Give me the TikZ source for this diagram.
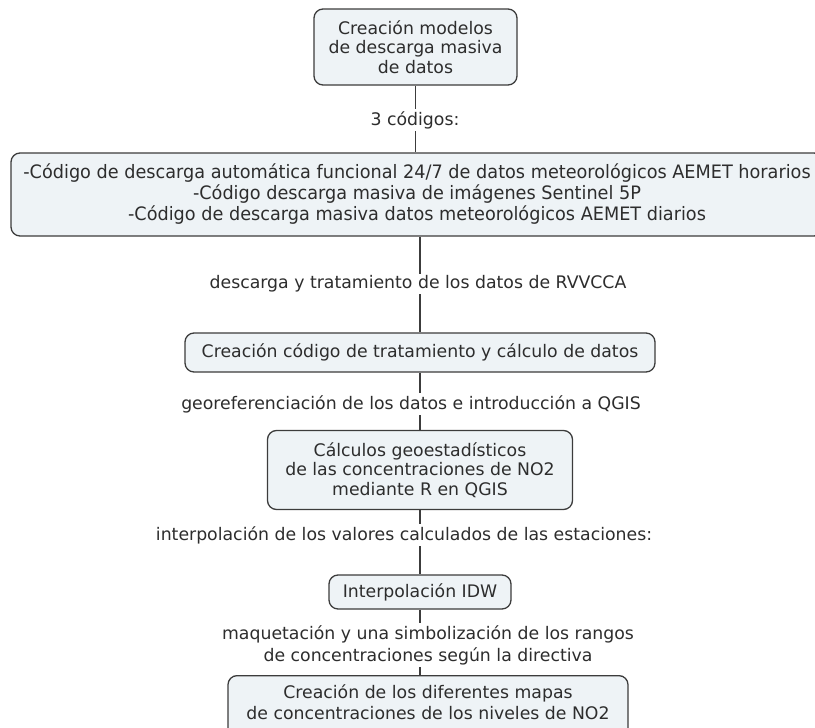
\documentclass[tikz,border=0pt]{standalone}
\usepackage{fontspec}
\setmainfont{DejaVu Sans}
\usetikzlibrary{backgrounds}
\definecolor{boxfill}{RGB}{238,243,246}
\definecolor{boxline}{RGB}{60,60,60}
\definecolor{txt}{RGB}{45,45,45}
\newcommand{\cond}[1]{\scalebox{0.955}[1]{#1}}
\begin{document}
\begin{tikzpicture}[x=1pt,y=-1pt,
  box/.style={draw=boxline,line width=1.3pt,fill=boxfill,rounded corners=9pt,align=center,inner sep=0pt,text=txt,font=\fontsize{17.3}{19.5}\selectfont},
  lbl/.style={fill=white,inner sep=2pt,align=center,text=txt,font=\fontsize{17.3}{22}\selectfont},
  conn/.style={draw=boxline,line width=1.2pt}]
\useasboundingbox (0,0) rectangle (815,728);
\clip (0,0) rectangle (815,728);
\node[box,minimum width=203pt,minimum height=76pt] (b1) at (415.5,47) {Creación modelos\\de descarga masiva\\de datos};
\node[box,minimum width=812pt,minimum height=83pt,font=\fontsize{18.5}{21}\selectfont] (b2) at (417,194.5) {\cond{-Código de descarga automática funcional 24/7 de datos meteorológicos AEMET horarios}\\\cond{-Código descarga masiva de imágenes Sentinel 5P}\\\cond{-Código de descarga masiva datos meteorológicos AEMET diarios}};
\node[box,minimum width=470pt,minimum height=39pt] (b3) at (420,352.5) {Creación código de tratamiento y cálculo de datos};
\node[box,minimum width=305pt,minimum height=79pt] (b4) at (420,470) {Cálculos geoestadísticos\\de las concentraciones de NO2\\mediante R en QGIS};
\node[box,minimum width=182pt,minimum height=34pt] (b5) at (420,592) {Interpolación IDW};
\node[box,minimum width=400pt,anchor=north,inner ysep=9pt,font=\fontsize{17.3}{21}\selectfont] (b6) at (428,675) {Creación de los diferentes mapas\\de concentraciones de los niveles de NO2\\\rule{0pt}{20pt}};
\node[lbl] (l1) at (415,120) {3 códigos:};
\node[lbl] (l2) at (418,284) {descarga y tratamiento de los datos de RVVCCA};
\node[lbl] (l3) at (411,404) {georeferenciación de los datos e introducción a QGIS};
\node[lbl] (l4) at (404,535) {interpolación de los valores calculados de las estaciones:};
\node[lbl] (l5) at (428,645) {maquetación y una simbolización de los rangos\\de concentraciones según la directiva};
\begin{scope}[on background layer]
\draw[conn] (b1.south) -- (b1.south |- b2.north);
\draw[conn] (b2.south -| b3.north) -- (b3.north);
\draw[conn] (b3.south) -- (b4.north);
\draw[conn] (b4.south) -- (b5.north);
\draw[conn] (b5.south) -- (b5.south |- b6.north);
\end{scope}
\end{tikzpicture}
\end{document}
